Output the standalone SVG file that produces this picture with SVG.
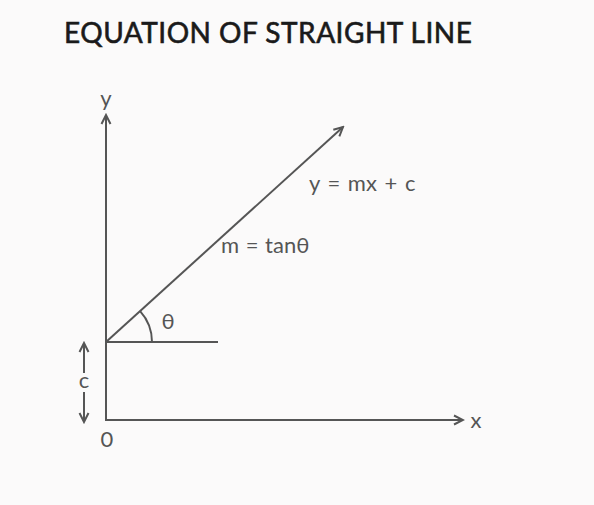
<svg xmlns="http://www.w3.org/2000/svg" width="594" height="505" viewBox="0 0 594 505">
<style>
.ln{stroke:#555;stroke-width:2;fill:none}
.lb{font-family:Lato,"Open Sans","Liberation Sans",sans-serif;fill:#555;font-size:22px}
.ttl{font-family:Lato,"Open Sans","Liberation Sans",sans-serif;fill:#1a1a1a;font-size:28px;letter-spacing:0.5px;stroke:#1a1a1a;stroke-width:0.6px}
</style>
<defs>
<marker id="ah" viewBox="0 0 12 12" refX="10" refY="6" markerWidth="12" markerHeight="12" markerUnits="userSpaceOnUse" orient="auto">
<polyline points="1,1.5 10,6 1,10.5" fill="none" stroke="#555" stroke-width="2"/>
</marker>
</defs>
<rect width="594" height="505" fill="#fbfafa"/>
<text class="ttl" x="64" y="43">EQUATION OF STRAIGHT LINE</text>
<g id="connectors">
<line class="ln" x1="106" y1="421" x2="106" y2="115" marker-end="url(#ah)"/>
<line class="ln" x1="105" y1="420" x2="463" y2="420" marker-end="url(#ah)"/>
<line class="ln" x1="106" y1="342" x2="343" y2="127" marker-end="url(#ah)"/>
<line class="ln" x1="106" y1="342" x2="218" y2="342"/>
<path class="ln" d="M152,342 A46,46 0 0 0 140.1,311.1"/>
<line class="ln" x1="84" y1="373" x2="84" y2="343" marker-end="url(#ah)"/>
<line class="ln" x1="84" y1="392" x2="84" y2="422" marker-end="url(#ah)"/>
</g>
<g id="labels">
<text class="lb" x="106" y="106" text-anchor="middle">y</text>
<text class="lb" x="476" y="428" text-anchor="middle">x</text>
<text class="lb" x="107" y="447" text-anchor="middle">0</text>
<text class="lb" x="84" y="388" text-anchor="middle">c</text>
<text class="lb" x="168" y="329" text-anchor="middle">θ</text>
<text class="lb" x="309" y="191" word-spacing="2">y = mx + c</text>
<text class="lb" x="221" y="253" word-spacing="1">m = tanθ</text>
</g>
</svg>
